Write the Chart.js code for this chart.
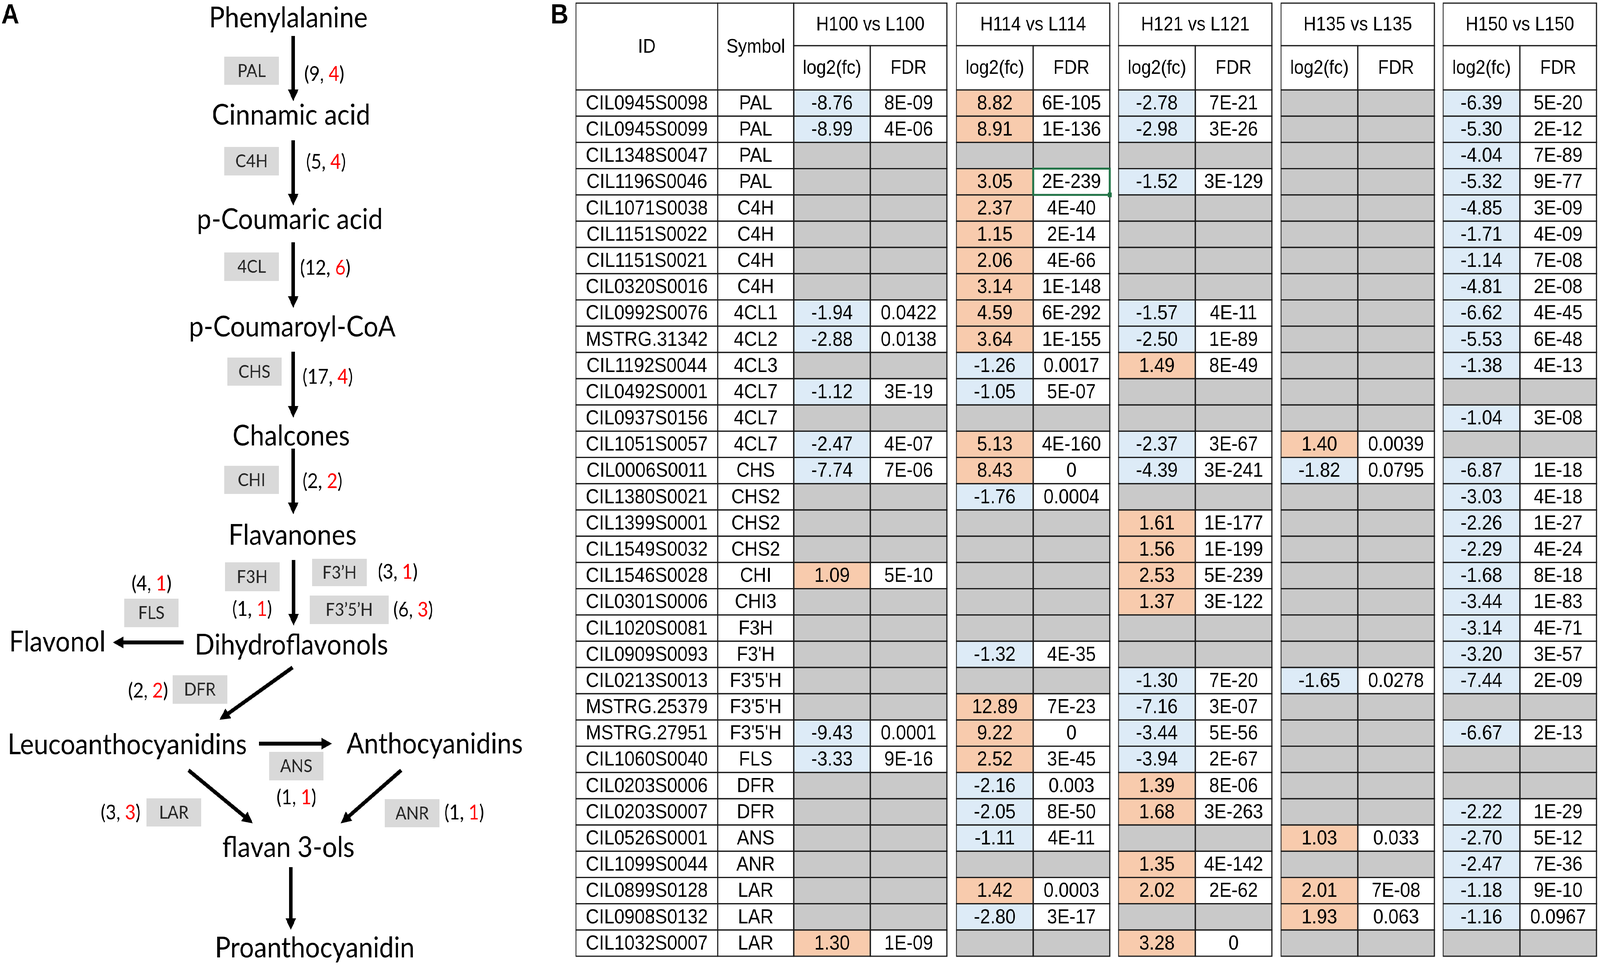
<!DOCTYPE html>
<html>
<head>
<meta charset="utf-8">
<script src="https://cdn.jsdelivr.net/npm/chart.js@4.4.1/dist/chart.umd.min.js"></script>
<style>
  html, body { margin: 0; padding: 0; background: #fff; overflow: hidden; }
  #frame { position: absolute; left: 0; top: 0; overflow: hidden; }
  #page { position: absolute; left: 0; top: 0; width: 4550px; height: 2472px; transform-origin: 0 0; }
  #wrapA { position: absolute; left: 0; top: 0; width: 1560px; height: 2472px; }
  #wrapB { position: absolute; left: 1560px; top: 0; width: 2990px; height: 2472px; }
</style>
</head>
<body>
<div id="frame">
  <div id="page">
    <div id="wrapA"><canvas id="pathway" width="1560" height="2472"></canvas></div>
    <div id="wrapB"><canvas id="table" width="2990" height="2472"></canvas></div>
  </div>
</div>
<script>
// the window may be narrower than 4550 px (browsers cap it), so stretch the page onto it
const fitX = window.innerWidth / 4550;
const fitY = window.innerHeight / 2472;
const frame = document.getElementById("frame");
frame.style.width = window.innerWidth + "px";
frame.style.height = window.innerHeight + "px";
document.getElementById("page").style.transform = `scale(${fitX}, ${fitY})`;

// ---------- panel A data ----------
const metabolites = [
  "Phenylalanine", "Cinnamic acid", "p-Coumaric acid", "p-Coumaroyl-CoA",
  "Chalcones", "Flavanones", "Dihydroflavonols", "Flavonol",
  "Leucoanthocyanidins", "Anthocyanidins", "flavan 3-ols", "Proanthocyanidin",
];
const enzymes = ["PAL", "C4H", "4CL", "CHS", "CHI", "F3H", "F3\u2019H", "F3\u20195\u2019H", "FLS", "DFR", "ANS", "LAR", "ANR"];
const geneTotals = [9, 5, 12, 17, 2, 1, 3, 6, 4, 2, 1, 3, 1];
const degCounts = [4, 4, 6, 4, 2, 1, 1, 3, 1, 2, 1, 3, 1];

// ---------- panel B data ----------
const geneIds = [
  "CIL0945S0098", "CIL0945S0099", "CIL1348S0047", "CIL1196S0046", "CIL1071S0038",
  "CIL1151S0022", "CIL1151S0021", "CIL0320S0016", "CIL0992S0076", "MSTRG.31342",
  "CIL1192S0044", "CIL0492S0001", "CIL0937S0156", "CIL1051S0057", "CIL0006S0011",
  "CIL1380S0021", "CIL1399S0001", "CIL1549S0032", "CIL1546S0028", "CIL0301S0006",
  "CIL1020S0081", "CIL0909S0093", "CIL0213S0013", "MSTRG.25379", "MSTRG.27951",
  "CIL1060S0040", "CIL0203S0006", "CIL0203S0007", "CIL0526S0001", "CIL1099S0044",
  "CIL0899S0128", "CIL0908S0132", "CIL1032S0007",
];
const geneSymbols = [
  "PAL", "PAL", "PAL", "PAL", "C4H", "C4H", "C4H", "C4H", "4CL1", "4CL2", "4CL3",
  "4CL7", "4CL7", "4CL7", "CHS", "CHS2", "CHS2", "CHS2", "CHI", "CHI3", "F3H",
  "F3'H", "F3'5'H", "F3'5'H", "F3'5'H", "FLS", "DFR", "DFR", "ANS", "ANR",
  "LAR", "LAR", "LAR",
];
const comparisons = ["H100 vs L100", "H114 vs L114", "H121 vs L121", "H135 vs L135", "H150 vs L150"];

const h100Fc = [-8.76, -8.99, null, null, null, null, null, null, -1.94, -2.88, null, -1.12, null, -2.47, -7.74, null, null, null, 1.09, null, null, null, null, null, -9.43, -3.33, null, null, null, null, null, null, 1.30];
const h100Fdr = ["8E-09", "4E-06", null, null, null, null, null, null, "0.0422", "0.0138", null, "3E-19", null, "4E-07", "7E-06", null, null, null, "5E-10", null, null, null, null, null, "0.0001", "9E-16", null, null, null, null, null, null, "1E-09"];

const h114Fc = [8.82, 8.91, null, 3.05, 2.37, 1.15, 2.06, 3.14, 4.59, 3.64, -1.26, -1.05, null, 5.13, 8.43, -1.76, null, null, null, null, null, -1.32, null, 12.89, 9.22, 2.52, -2.16, -2.05, -1.11, null, 1.42, -2.80, null];
const h114Fdr = ["6E-105", "1E-136", null, "2E-239", "4E-40", "2E-14", "4E-66", "1E-148", "6E-292", "1E-155", "0.0017", "5E-07", null, "4E-160", "0", "0.0004", null, null, null, null, null, "4E-35", null, "7E-23", "0", "3E-45", "0.003", "8E-50", "4E-11", null, "0.0003", "3E-17", null];

const h121Fc = [-2.78, -2.98, null, -1.52, null, null, null, null, -1.57, -2.50, 1.49, null, null, -2.37, -4.39, null, 1.61, 1.56, 2.53, 1.37, null, null, -1.30, -7.16, -3.44, -3.94, 1.39, 1.68, null, 1.35, 2.02, null, 3.28];
const h121Fdr = ["7E-21", "3E-26", null, "3E-129", null, null, null, null, "4E-11", "1E-89", "8E-49", null, null, "3E-67", "3E-241", null, "1E-177", "1E-199", "5E-239", "3E-122", null, null, "7E-20", "3E-07", "5E-56", "2E-67", "8E-06", "3E-263", null, "4E-142", "2E-62", null, "0"];

const h135Fc = [null, null, null, null, null, null, null, null, null, null, null, null, null, 1.40, -1.82, null, null, null, null, null, null, null, -1.65, null, null, null, null, null, 1.03, null, 2.01, 1.93, null];
const h135Fdr = [null, null, null, null, null, null, null, null, null, null, null, null, null, "0.0039", "0.0795", null, null, null, null, null, null, null, "0.0278", null, null, null, null, null, "0.033", null, "7E-08", "0.063", null];

const h150Fc = [-6.39, -5.30, -4.04, -5.32, -4.85, -1.71, -1.14, -4.81, -6.62, -5.53, -1.38, null, -1.04, null, -6.87, -3.03, -2.26, -2.29, -1.68, -3.44, -3.14, -3.20, -7.44, null, -6.67, null, null, -2.22, -2.70, -2.47, -1.18, -1.16, null];
const h150Fdr = ["5E-20", "2E-12", "7E-89", "9E-77", "3E-09", "4E-09", "7E-08", "2E-08", "4E-45", "6E-48", "4E-13", null, "3E-08", null, "1E-18", "4E-18", "1E-27", "4E-24", "8E-18", "1E-83", "4E-71", "3E-57", "2E-09", null, "2E-13", null, null, "1E-29", "5E-12", "7E-36", "9E-10", "0.0967", null];

const fcSeries = [h100Fc, h114Fc, h121Fc, h135Fc, h150Fc];
const fdrSeries = [h100Fdr, h114Fdr, h121Fdr, h135Fdr, h150Fdr];

// ---------- layout / styles ----------
const nodePos = [[820, 70], [828, 319], [824, 586], [831, 861], [828, 1140], [832, 1394], [829, 1675], [163, 1667], [362, 1930], [1236, 1928], [820, 2193], [895, 2450]];
const arrowPos = [
  [834, 92, 834, 259], [834, 359, 834, 526], [834, 620, 834, 788], [834, 900, 834, 1069],
  [834, 1148, 834, 1316], [835, 1433, 835, 1601], [522, 1644, 321, 1644], [832, 1708, 624, 1842],
  [737, 1903, 944, 1903], [536, 1971, 719, 2107], [1141, 1971, 969, 2107], [827, 2219, 827, 2380],
];
const boxPos = [
  [638, 145, 793, 217], [638, 376, 793, 449], [638, 646, 793, 719], [646, 915, 801, 987],
  [638, 1192, 793, 1264], [640, 1439, 795, 1513], [888, 1430, 1043, 1500], [881, 1524, 1105, 1597],
  [353, 1532, 508, 1605], [491, 1728, 646, 1801], [765, 1924, 920, 1997], [417, 2043, 572, 2115],
  [1094, 2045, 1250, 2117],
];
const countPos = [[922, 190], [927, 415], [925, 686], [932, 965], [917, 1232], [717, 1559], [1131, 1464], [1175, 1561], [431, 1494], [421, 1768], [843, 2041], [343, 2080], [1320, 2080]];
const HEAD_LEN = 30, HEAD_HALF = 15;

const SANS = '"Lato", "Open Sans", sans-serif';
const ARIAL = '"Liberation Sans", Arial, sans-serif';

const COLOR_UP = "#f8cbad";
const COLOR_DOWN = "#ddebf7";
const COLOR_NA = "#c9c9c9";

// ---------- panel A chart ----------
const arrowDatasets = arrowPos.map(([x0, y0, x1, y1]) => {
  const len = Math.hypot(x1 - x0, y1 - y0);
  const ux = (x1 - x0) / len, uy = (y1 - y0) / len;
  return {
    type: "line",
    data: [{ x: x0, y: y0 }, { x: x1 - ux * (HEAD_LEN - 2), y: y1 - uy * (HEAD_LEN - 2) }],
    tip: { x: x1, y: y1 },
    borderColor: "#000",
    borderWidth: 10,
    pointRadius: 0,
    fill: false,
  };
});

const pathwayPlugin = {
  id: "pathway",
  afterDatasetsDraw(chart) {
    const { ctx, scales: { x, y } } = chart;
    ctx.save();
    // arrow heads
    chart.data.datasets.forEach((ds, i) => {
      if (!ds.tip) return;
      const base = chart.getDatasetMeta(i).data[1];
      const tx = x.getPixelForValue(ds.tip.x), ty = y.getPixelForValue(ds.tip.y);
      const len = Math.hypot(tx - base.x, ty - base.y);
      const ux = (tx - base.x) / len, uy = (ty - base.y) / len;
      const bx = tx - ux * HEAD_LEN, by = ty - uy * HEAD_LEN;
      ctx.fillStyle = "#000";
      ctx.beginPath();
      ctx.moveTo(tx, ty);
      ctx.lineTo(bx - uy * HEAD_HALF, by + ux * HEAD_HALF);
      ctx.lineTo(bx + uy * HEAD_HALF, by - ux * HEAD_HALF);
      ctx.closePath();
      ctx.fill();
    });
    // metabolite names
    const nodeMeta = chart.getDatasetMeta(chart.data.datasets.length - 1);
    ctx.font = `74px ${SANS}`;
    ctx.fillStyle = "#000";
    ctx.textAlign = "center";
    ctx.textBaseline = "alphabetic";
    nodeMeta.data.forEach((pt, i) => ctx.fillText(metabolites[i], pt.x, pt.y));
    // enzyme boxes and gene counts
    enzymes.forEach((name, i) => {
      const [bx0, by0, bx1, by1] = boxPos[i];
      const px0 = x.getPixelForValue(bx0), py0 = y.getPixelForValue(by0);
      const px1 = x.getPixelForValue(bx1), py1 = y.getPixelForValue(by1);
      ctx.fillStyle = "#d9d9d9";
      ctx.fillRect(px0, py0, px1 - px0, py1 - py0);
      ctx.fillStyle = "#262626";
      ctx.font = `46px ${SANS}`;
      ctx.textAlign = "center";
      ctx.textBaseline = "middle";
      ctx.fillText(name, (px0 + px1) / 2, (py0 + py1) / 2 + 1);

      const parts = [["(" + geneTotals[i] + ", ", "#000"], [String(degCounts[i]), "#ff0000"], [")", "#000"]];
      ctx.font = `52px ${SANS}`;
      const w = parts.reduce((s, p) => s + ctx.measureText(p[0]).width, 0);
      let cx = x.getPixelForValue(countPos[i][0]) - w / 2;
      const cy = y.getPixelForValue(countPos[i][1]);
      ctx.textAlign = "left";
      parts.forEach(([t, c]) => {
        ctx.fillStyle = c;
        ctx.fillText(t, cx, cy);
        cx += ctx.measureText(t).width;
      });
    });
    // panel letter
    ctx.fillStyle = "#000";
    ctx.font = `bold 70px ${ARIAL}`;
    ctx.textAlign = "left";
    ctx.textBaseline = "alphabetic";
    ctx.fillText("A", 4, 60);
    ctx.restore();
  },
};

new Chart(document.getElementById("pathway"), {
  type: "scatter",
  data: {
    datasets: [
      ...arrowDatasets,
      { type: "scatter", data: nodePos.map(([px, py]) => ({ x: px, y: py })), pointRadius: 0 },
    ],
  },
  options: {
    responsive: false,
    devicePixelRatio: 1,
    animation: false,
    events: [],
    plugins: { legend: { display: false }, tooltip: { enabled: false } },
    scales: {
      x: { type: "linear", min: 0, max: 1560, display: false },
      y: { type: "linear", min: 0, max: 2472, reverse: true, display: false },
    },
  },
  plugins: [pathwayPlugin],
});

// ---------- panel B chart ----------
const TBL = { padLeft: 78, padRight: 10, padTop: 230, padBottom: 25, head1: 109, head2: 113 };
const ID_COL = [0, 403], SYM_COL = [403, 619];
const GROUP_START = [619, 1082, 1543, 2005, 2466];
const SUB_W = 218;
const X_MAX = 2902;

const columns = [
  { range: ID_COL, text: geneIds, fill: () => "#fff" },
  { range: SYM_COL, text: geneSymbols, fill: () => "#fff" },
];
comparisons.forEach((_, g) => {
  const fc = fcSeries[g], fdr = fdrSeries[g];
  const gx = GROUP_START[g];
  columns.push({
    range: [gx, gx + SUB_W],
    text: fc.map((v) => (v === null ? "" : v.toFixed(2))),
    fill: (r) => (fc[r] === null ? COLOR_NA : fc[r] > 0 ? COLOR_UP : COLOR_DOWN),
  });
  columns.push({
    range: [gx + SUB_W, gx + 2 * SUB_W],
    text: fdr.map((v) => (v === null ? "" : v)),
    fill: (r) => (fdr[r] === null ? COLOR_NA : "#fff"),
  });
});

const tablePlugin = {
  id: "cells",
  afterDatasetsDraw(chart) {
    const { ctx, chartArea, scales: { x } } = chart;
    ctx.save();
    ctx.lineWidth = 3;
    ctx.strokeStyle = "#1a1a1a";
    ctx.textAlign = "center";
    ctx.textBaseline = "middle";
    // body cells
    ctx.font = `52px ${ARIAL}`;
    columns.forEach((col, c) => {
      chart.getDatasetMeta(c).data.forEach((bar, r) => {
        const left = Math.min(bar.x, bar.base), right = Math.max(bar.x, bar.base);
        const top = bar.y - bar.height / 2;
        ctx.strokeRect(left, top, right - left, bar.height);
        ctx.fillStyle = "#000";
        ctx.fillText(col.text[r], (left + right) / 2, bar.y + 2);
      });
    });
    // header cells
    ctx.font = `50px ${ARIAL}`;
    const y2 = chartArea.top, y1 = y2 - TBL.head2, y0 = y1 - TBL.head1;
    const headCell = (a, b, top, bottom, label) => {
      const l = x.getPixelForValue(a), r = x.getPixelForValue(b);
      ctx.fillStyle = "#fff";
      ctx.fillRect(l, top, r - l, bottom - top);
      ctx.strokeRect(l, top, r - l, bottom - top);
      ctx.fillStyle = "#000";
      ctx.fillText(label, (l + r) / 2, (top + bottom) / 2 + 2);
    };
    headCell(ID_COL[0], ID_COL[1], y0, y2, "ID");
    headCell(SYM_COL[0], SYM_COL[1], y0, y2, "Symbol");
    comparisons.forEach((name, g) => {
      const gx = GROUP_START[g];
      headCell(gx, gx + 2 * SUB_W, y0, y1, name);
      headCell(gx, gx + SUB_W, y1, y2, "log2(fc)");
      headCell(gx + SUB_W, gx + 2 * SUB_W, y1, y2, "FDR");
    });
    // spreadsheet selection frame on the H114 FDR cell of row 4
    const sel = chart.getDatasetMeta(5).data[3];
    const sl = Math.min(sel.x, sel.base), sr = Math.max(sel.x, sel.base);
    ctx.strokeStyle = "#217346";
    ctx.lineWidth = 5;
    ctx.strokeRect(sl, sel.y - sel.height / 2, sr - sl, sel.height);
    ctx.fillStyle = "#217346";
    ctx.fillRect(sr - 6, sel.y + sel.height / 2 - 6, 12, 12);
    // panel letter
    ctx.fillStyle = "#000";
    ctx.font = `bold 70px ${ARIAL}`;
    ctx.textAlign = "left";
    ctx.textBaseline = "alphabetic";
    ctx.fillText("B", 6, 60);
    ctx.restore();
  },
};

new Chart(document.getElementById("table"), {
  type: "bar",
  data: {
    labels: geneIds,
    datasets: columns.map((col) => ({
      data: geneIds.map(() => col.range.slice()),
      backgroundColor: geneIds.map((_, r) => col.fill(r)),
      borderWidth: 0,
      grouped: false,
      barPercentage: 1,
      categoryPercentage: 1,
    })),
  },
  options: {
    indexAxis: "y",
    responsive: false,
    devicePixelRatio: 1,
    animation: false,
    events: [],
    layout: { padding: { left: TBL.padLeft, right: TBL.padRight, top: TBL.padTop, bottom: TBL.padBottom } },
    plugins: { legend: { display: false }, tooltip: { enabled: false } },
    scales: {
      x: { type: "linear", min: 0, max: X_MAX, display: false },
      y: { type: "category", display: false },
    },
  },
  plugins: [tablePlugin],
});
</script>
</body>
</html>
